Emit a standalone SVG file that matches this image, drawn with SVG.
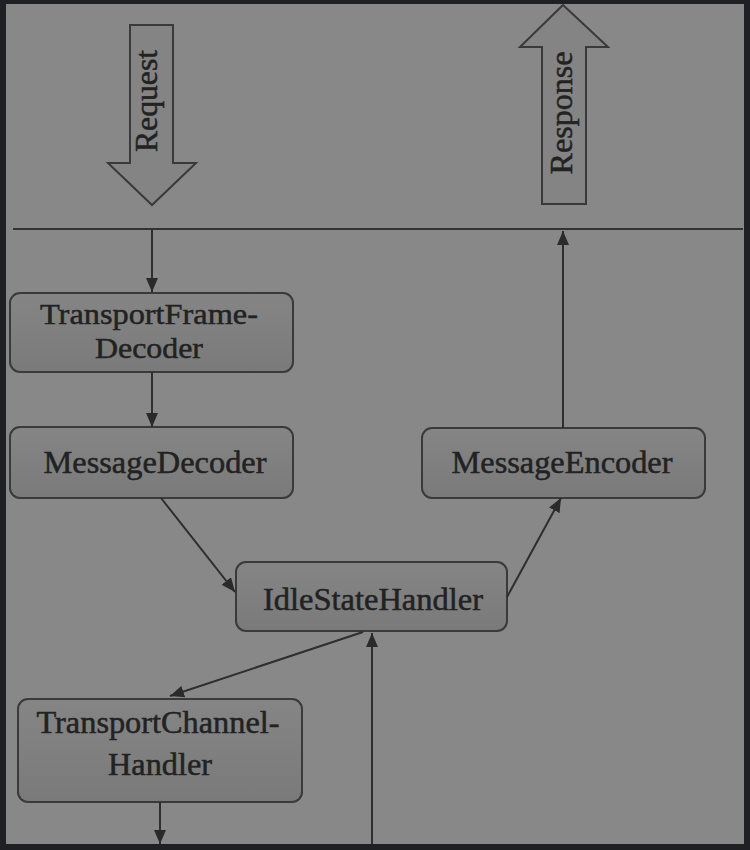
<svg xmlns="http://www.w3.org/2000/svg" width="750" height="850" viewBox="0 0 750 850">
  <defs>
    <linearGradient id="boxg" x1="0" y1="0" x2="0" y2="1">
      <stop offset="0" stop-color="#858585"/>
      <stop offset="1" stop-color="#7a7a7a"/>
    </linearGradient>
    <marker id="ah" markerUnits="userSpaceOnUse" markerWidth="14" markerHeight="12" refX="14" refY="6" orient="auto">
      <path d="M0,0 L14,6 L0,12 z" fill="#2a2a2a"/>
    </marker>
    <style>
      .box { fill: url(#boxg); stroke: #3a3a3a; stroke-width: 2; }
      .big { fill: #848484; stroke: #3a3a3a; stroke-width: 2; }
      .lbl { font-family: "Liberation Serif", "Times New Roman", serif; font-size: 31px; fill: #222222; stroke: #222222; stroke-width: 0.5; text-anchor: middle; }
      .sm { font-size: 30px; }
      .conn { stroke: #2e2e2e; stroke-width: 2; fill: none; marker-end: url(#ah); }
    </style>
  </defs>
  <rect x="0" y="0" width="750" height="850" fill="#1f2023"/>
  <rect x="6" y="4" width="738" height="840" fill="#888888"/>

  <g id="request">
    <polygon class="big" points="130,25 173,25 173,163 196,163 152,205 108,163 130,163"/>
    <text class="lbl" transform="translate(157,101) rotate(-90)" textLength="102" lengthAdjust="spacingAndGlyphs">Request</text>
  </g>
  <g id="response">
    <polygon class="big" points="563,5 608,47 586,47 586,204 542,204 542,47 520,47"/>
    <text class="lbl" transform="translate(572,113) rotate(-90)" textLength="123" lengthAdjust="spacingAndGlyphs">Response</text>
  </g>
  <line x1="13" y1="229" x2="743" y2="229" stroke="#333333" stroke-width="2"/>

  <g id="TransportFrameDecoder">
    <rect class="box" x="10" y="293" width="283" height="79" rx="10"/>
    <text class="lbl sm" x="149" y="324" textLength="218" lengthAdjust="spacingAndGlyphs">TransportFrame-</text>
    <text class="lbl sm" x="149" y="358" textLength="108" lengthAdjust="spacingAndGlyphs">Decoder</text>
  </g>
  <g id="MessageDecoder">
    <rect class="box" x="10" y="427" width="283" height="71" rx="10"/>
    <text class="lbl" x="155" y="473" textLength="223" lengthAdjust="spacingAndGlyphs">MessageDecoder</text>
  </g>
  <g id="MessageEncoder">
    <rect class="box" x="422" y="428" width="283" height="70" rx="10"/>
    <text class="lbl" x="562" y="473" textLength="221" lengthAdjust="spacingAndGlyphs">MessageEncoder</text>
  </g>
  <g id="IdleStateHandler">
    <rect class="box" x="236" y="562" width="271" height="69" rx="10"/>
    <text class="lbl" x="373" y="610" textLength="220" lengthAdjust="spacingAndGlyphs">IdleStateHandler</text>
  </g>
  <g id="TransportChannelHandler">
    <rect class="box" x="18" y="699" width="284" height="103" rx="10"/>
    <text class="lbl" x="158" y="733" textLength="243" lengthAdjust="spacingAndGlyphs">TransportChannel-</text>
    <text class="lbl" x="160" y="775" textLength="104" lengthAdjust="spacingAndGlyphs">Handler</text>
  </g>

  <g id="connectors">
    <line class="conn" x1="152" y1="230" x2="152" y2="292"/>
    <line class="conn" x1="152" y1="372" x2="152" y2="427"/>
    <line class="conn" x1="161" y1="498" x2="235" y2="592"/>
    <line class="conn" x1="507" y1="597" x2="561" y2="498"/>
    <line class="conn" x1="563" y1="428" x2="563" y2="231"/>
    <line class="conn" x1="363" y1="632" x2="170" y2="696"/>
    <line class="conn" x1="372" y1="844" x2="372" y2="633"/>
    <line class="conn" x1="160" y1="802" x2="160" y2="844"/>
  </g>
</svg>
